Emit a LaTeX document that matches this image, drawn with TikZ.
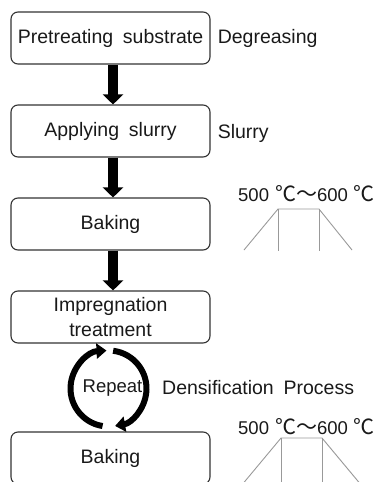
\documentclass[tikz,border=0pt]{standalone}
\usepackage{fontspec}
\setmainfont{Liberation Sans}[WordSpace=1.8]
\newfontfamily\cjk{Noto Sans CJK SC}
\usetikzlibrary{arrows.meta}

\begin{document}
\begin{tikzpicture}[x=1pt, y=1pt, node distance=93pt]
    % Define styles
    \tikzstyle{stage} = [rectangle, rounded corners=7pt, minimum width=199pt, minimum height=52pt, text centered, align=center, draw=black!80, line width=1.1pt, inner sep=2pt, font=\fontsize{19.5}{25}\selectfont, text=black!90]
    \tikzstyle{note} = [anchor=west, inner sep=0pt, font=\fontsize{19.5}{25}\selectfont, text=black!90]
    \tikzstyle{temp} = [anchor=west, inner sep=0pt, font=\fontsize{18.5}{22}\selectfont, text=black!90]
    \tikzstyle{flow} = [line width=10pt, -{Triangle[width=20pt, length=10pt]}]
    \tikzstyle{repeatarrow} = [line width=6pt, -{Triangle[width=15pt, length=10pt]}]
    \tikzstyle{profile} = [draw=black!40, line width=0.9pt]
    \newcommand{\degc}{{\cjk\fontsize{21}{22}\selectfont ℃}}
    \newcommand{\wave}{{\cjk\fontsize{21}{22}\selectfont ～}}

    \useasboundingbox (0,0) rectangle (383,-482);
    \clip (0,0) rectangle (383,-482);

    % Nodes
    \node (pre) [stage] at (110.5,-38) {Pretreating substrate};
    \node (slurry) [stage, below of=pre] {Applying slurry};
    \node (bake) [stage, below of=slurry] {Baking};
    \node (impreg) [stage, below of=bake] {Impregnation\\treatment};
    \node (rebake) [stage, below of=impreg, yshift=-48pt] {Baking};

    \node (degrease) [note] at ([xshift=7pt]pre.east) {Degreasing};
    \node (slurrynote) [note] at ([xshift=7pt, yshift=-2pt]slurry.east) {Slurry};
    \node (temp1) [temp] at (238,-194) {500\hspace{6pt}\degc\wave600\hspace{6pt}\degc};
    \node (temp2) [temp] at (238,-427) {500\hspace{6pt}\degc\wave600\hspace{6pt}\degc};
    \node (rep) [note, anchor=center, font=\fontsize{18.5}{22}\selectfont] at (112.5,-388) {Repeat};
    \node (dens) [note] at (162,-388) {Densification Process};
    \coordinate (hub) at (108.5,-388.5);

    % Arrows
    \draw [flow] ([xshift=2.5pt]pre.south) -- ([xshift=2.5pt]slurry.north);
    \draw [flow] ([xshift=2.5pt]slurry.south) -- ([xshift=2.5pt]bake.north);
    \draw [flow] ([xshift=2.5pt]bake.south) -- ([xshift=2.5pt]impreg.north);
    \draw [repeatarrow] ([shift={(261:38)}]hub) arc[start angle=261, end angle=93, radius=38];
    \draw [repeatarrow] ([shift={(83:38)}]hub) arc[start angle=83, end angle=-80, radius=38];

    % Baking profiles
    \draw [profile] (244,-250) -- (278,-209) -- (319,-209) -- (352,-250);
    \draw [profile] (278,-209) -- (278,-251);
    \draw [profile] (319,-209) -- (319,-251);
    \draw [profile] (236,-492) -- (281,-438) -- (322,-438) -- (367,-492);
    \draw [profile] (281,-438) -- (281,-492);
    \draw [profile] (322,-438) -- (322,-492);
\end{tikzpicture}
\end{document}
